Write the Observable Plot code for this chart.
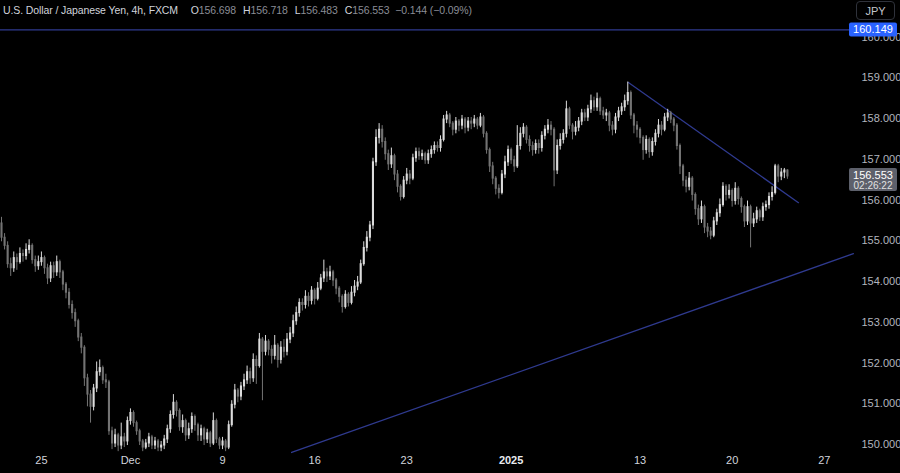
<!DOCTYPE html>
<html><head><meta charset="utf-8">
<script src="https://cdn.jsdelivr.net/npm/d3@7"></script>
<script src="https://cdn.jsdelivr.net/npm/@observablehq/plot@0.6"></script>
<style>
html,body{margin:0;padding:0;background:#000;}
#wrap{position:relative;width:900px;height:473px;overflow:hidden;background:#000;font-family:"Liberation Sans",Arial,sans-serif;}
#hdr{position:absolute;left:3px;top:4px;font-size:10.5px;letter-spacing:-0.1px;color:#d1d4dc;white-space:nowrap;}
#hdr .k{color:#d1d4dc;margin-left:7px}
#hdr .v{color:#8a8d96}
#jpy{position:absolute;left:856px;top:1px;width:39px;height:19px;border:1px solid #2f323b;border-radius:4px;color:#c3c6ce;font-size:11px;text-align:center;line-height:18px;box-sizing:border-box;}
</style></head>
<body><div id="wrap"><div id="chart"></div>
<div id="hdr">U.S. Dollar / Japanese Yen, 4h, FXCM &nbsp;<span class="k">O</span><span class="v">156.698</span><span class="k">H</span><span class="v">156.718</span><span class="k">L</span><span class="v">156.483</span><span class="k">C</span><span class="v">156.553</span> <span class="v">&nbsp;−0.144 (−0.09%)</span></div>
<div id="jpy">JPY</div>
</div>
<script>
// ---- data (4h candles) ----
const firstOpen = 155.40;
const closes = [
155.05,154.85,154.40,154.30,154.55,154.45,154.65,154.60,154.75,154.85,
154.50,154.35,154.45,154.55,154.30,154.05,154.35,154.20,154.45,154.20,
153.90,153.70,153.40,153.20,153.00,152.60,152.35,151.60,151.20,150.90,
151.35,151.75,151.85,151.55,151.50,150.30,150.00,150.20,149.95,150.15,
150.05,150.55,150.75,150.50,150.30,150.05,149.90,150.00,150.15,149.95,
150.05,149.90,149.95,150.10,150.35,150.70,151.00,150.80,150.40,150.55,
150.20,150.35,150.65,150.45,150.20,150.35,150.10,150.25,150.00,150.55,
150.10,149.95,150.05,149.90,150.45,150.95,151.30,151.15,151.40,151.55,
151.75,151.60,152.05,151.90,152.55,152.25,152.50,152.30,152.15,152.40,
152.05,152.35,152.25,152.55,152.70,153.00,153.20,153.45,153.40,153.60,
153.50,153.75,153.55,153.80,154.05,154.20,154.10,154.20,154.00,153.80,
153.60,153.35,153.65,153.45,153.70,153.85,153.95,154.40,154.80,155.05,
155.35,156.90,157.50,157.70,157.40,157.10,156.85,157.05,156.60,156.30,
156.05,156.45,156.60,156.50,157.00,157.15,157.05,157.10,156.95,157.10,
157.20,157.30,157.25,157.45,157.95,158.05,157.85,157.70,157.90,157.80,
157.95,157.75,157.90,157.85,157.95,157.80,158.00,157.60,157.20,156.80,
156.50,156.25,156.15,156.60,156.90,157.20,156.95,156.80,157.30,157.60,
157.75,157.45,157.30,157.20,157.35,157.25,157.55,157.70,157.80,157.70,
156.70,157.30,157.45,157.60,158.20,157.80,157.65,157.75,157.90,158.10,
158.00,158.20,158.40,158.25,158.45,158.15,158.05,158.10,157.80,157.70,
158.00,158.15,158.25,158.40,158.60,158.05,157.80,157.70,157.50,157.20,
157.45,157.15,157.40,157.60,157.80,157.70,158.00,158.10,157.95,157.80,
157.30,156.80,156.45,156.30,156.50,156.10,155.75,155.50,155.80,155.30,
155.20,155.10,155.45,155.65,155.85,156.30,156.10,156.20,155.95,156.25,
156.00,155.80,155.45,155.80,155.40,155.50,155.70,155.55,155.80,155.85,
156.05,156.15,156.80,156.55,156.65,156.70,156.553];
const highs = [
155.55,155.15,154.95,154.55,154.70,154.65,154.80,154.75,154.90,155.00,
154.90,154.60,154.60,154.70,154.60,154.40,154.45,154.45,154.60,154.50,
154.25,153.95,153.80,153.50,153.30,153.05,152.70,152.40,151.70,151.30,
151.45,152.00,152.05,151.90,151.70,151.55,150.40,150.35,150.25,150.50,
150.25,150.65,150.85,150.80,150.55,150.35,150.10,150.10,150.25,150.20,
150.15,150.10,150.05,150.20,150.45,150.80,151.20,151.05,150.85,150.70,
150.60,150.50,150.75,150.70,150.50,150.45,150.40,150.35,150.30,150.75,
150.60,150.15,150.15,150.10,150.55,151.05,151.45,151.35,151.50,151.70,
151.90,151.85,152.20,152.15,152.70,152.60,152.65,152.55,152.40,152.65,
152.45,152.50,152.55,152.70,152.85,153.15,153.35,153.55,153.55,153.75,
153.70,153.85,153.80,153.95,154.15,154.50,154.30,154.35,154.25,154.05,
153.85,153.65,153.75,153.70,153.85,154.00,154.10,154.50,154.95,155.20,
155.45,157.00,157.70,157.85,157.80,157.50,157.20,157.25,157.10,156.70,
156.35,156.55,156.75,156.70,157.10,157.25,157.25,157.20,157.15,157.20,
157.30,157.40,157.40,157.55,158.05,158.15,158.10,157.90,158.00,157.95,
158.05,158.00,158.00,158.00,158.05,158.00,158.10,158.05,157.65,157.25,
156.90,156.55,156.35,156.70,157.05,157.30,157.25,157.05,157.80,157.75,
157.85,157.80,157.55,157.40,157.45,157.45,157.65,157.80,157.95,157.90,
157.75,157.45,157.60,157.70,158.40,158.25,157.85,157.90,158.00,158.20,
158.20,158.30,158.55,158.50,158.60,158.50,158.25,158.20,158.15,157.90,
158.10,158.25,158.35,158.55,158.87,158.65,158.10,157.90,157.75,157.55,
157.55,157.50,157.50,157.70,157.95,157.90,158.10,158.20,158.15,158.00,
157.85,157.35,156.85,156.55,156.65,156.55,156.15,155.85,155.95,155.85,
155.40,155.30,155.55,155.75,156.00,156.40,156.35,156.35,156.25,156.40,
156.30,156.05,155.85,155.95,155.85,155.65,155.80,155.75,155.90,155.95,
156.15,156.30,156.85,156.85,156.75,156.75,156.718];
const lows = [
154.95,154.75,154.30,154.10,154.20,154.25,154.40,154.45,154.50,154.65,
154.40,154.20,154.25,154.35,154.15,153.90,153.95,154.05,154.10,154.05,
153.75,153.55,153.30,153.05,152.85,152.50,152.20,151.40,150.90,150.50,
150.80,151.25,151.65,151.45,151.35,150.20,149.85,149.90,149.80,149.85,
149.90,149.95,150.45,150.40,150.20,149.95,149.80,149.85,149.90,149.85,
149.85,149.80,149.80,149.85,150.00,150.25,150.60,150.65,150.30,150.25,
150.05,150.10,150.25,150.30,150.05,150.05,149.95,150.00,149.90,149.95,
150.00,149.85,149.85,149.80,149.85,150.40,150.85,151.00,151.05,151.30,
151.45,151.45,151.50,151.45,151.85,151.05,152.15,152.15,151.95,152.05,
151.85,151.95,152.10,152.15,152.45,152.60,152.90,153.10,153.25,153.30,
153.35,153.40,153.40,153.50,153.75,153.95,153.95,154.00,153.85,153.65,
153.45,153.20,153.30,153.35,153.40,153.60,153.75,153.90,154.35,154.70,
154.95,155.25,156.80,157.35,157.25,156.95,156.70,156.75,156.45,156.15,
155.95,156.00,156.35,156.35,156.45,156.90,156.95,156.95,156.85,156.85,
157.00,157.10,157.15,157.15,157.40,157.85,157.75,157.55,157.60,157.65,
157.70,157.60,157.65,157.70,157.75,157.70,157.75,157.50,157.10,156.65,
156.35,156.10,156.00,156.10,156.50,156.80,156.85,156.65,156.75,157.20,
157.50,157.35,157.15,157.05,157.10,157.10,157.15,157.45,157.60,157.55,
156.30,156.60,157.20,157.35,157.50,157.70,157.45,157.55,157.65,157.80,
157.90,157.90,158.10,158.15,158.15,158.05,157.95,157.90,157.65,157.55,
157.60,157.90,158.05,158.15,158.30,157.95,157.60,157.50,157.35,156.95,
157.10,157.00,157.05,157.30,157.50,157.55,157.65,157.90,157.85,157.65,
157.20,156.60,156.30,156.15,156.20,155.95,155.60,155.35,155.40,155.15,
155.05,155.00,155.05,155.35,155.55,155.80,155.95,156.00,155.80,155.85,
155.85,155.65,155.30,155.35,154.80,155.30,155.40,155.45,155.45,155.70,
155.75,155.95,156.10,156.40,156.45,156.50,156.483];
const tickIdx = [13, 42, 72, 102, 132, 166, 208, 238, 268];
const tickLabels = ["25", "Dec", "9", "16", "23", "2025", "13", "20", "27"];
const priceTicks = [150,151,152,153,154,155,156,157,158,159,160];
const resistIdx = [204.2, 259.6], resistPrice = [158.86, 155.91];
const supportIdx = [94.5, 277.5], supportPrice = [149.78, 154.66];
const lastLevel = 160.149;
const lastPrice = 156.553, countdown = "02:26:22";

// ---- build table ----
const bars = closes.map((c, i) => {
  const o = i === 0 ? firstOpen : closes[i - 1];
  return {i, o, c, h: highs[i], l: lows[i], up: c >= o};
});
const upCol = "#dcdcdc", dnCol = "#737373", lineCol = "#2f3a8f";
const ticks = tickIdx.map((t, k) => ({t, label: tickLabels[k], bold: tickLabels[k] === "2025"}));

const plot = Plot.plot({
  width: 900, height: 473,
  marginLeft: 0, marginRight: 47, marginTop: 0, marginBottom: 20,
  style: {background: "#000", color: "#b2b5be", fontFamily: "Liberation Sans, Arial, sans-serif", fontSize: "11px"},
  x: {type: "linear", domain: [0, 256], range: [1, 1 + 3.07 * 256], axis: null},
  y: {domain: [150, 160], range: [443, 35.5], axis: null},
  marks: [
    Plot.ruleY([lastLevel], {stroke: lineCol, strokeWidth: 1.2}),
    Plot.line(supportIdx.map((d, k) => ({x: d, y: supportPrice[k]})), {x: "x", y: "y", stroke: lineCol, strokeWidth: 1.3}),
    Plot.line(resistIdx.map((d, k) => ({x: d, y: resistPrice[k]})), {x: "x", y: "y", stroke: lineCol, strokeWidth: 1.3}),
    Plot.ruleX(bars, {x: "i", y1: "l", y2: "h", stroke: d => d.up ? upCol : dnCol, strokeWidth: 1}),
    Plot.ruleX(bars, {x: "i", y1: d => Math.min(d.o, d.c) - 0.012, y2: d => Math.max(d.o, d.c) + 0.012, stroke: d => d.up ? upCol : dnCol, strokeWidth: 2.1}),
    Plot.axisY(priceTicks, {anchor: "right", tickSize: 0, tickPadding: 8, dy: 1, tickFormat: d => d.toFixed(3), fill: "#b2b5be", fontSize: 11}),
    Plot.text(ticks.filter(d => !d.bold), {x: "t", text: "label", frameAnchor: "bottom", dy: 10, fill: "#d1d4dc", fontSize: 11}),
    Plot.text(ticks.filter(d => d.bold), {x: "t", text: "label", frameAnchor: "bottom", dy: 10, fill: "#e8eaef", fontSize: 11, fontWeight: "bold"})
  ]
});
document.getElementById("chart").appendChild(plot);

// price labels on the axis, placed through the y scale
const svg = d3.select(plot);
const ys = plot.scale("y");
const yL = ys.apply(lastLevel);
svg.append("rect").attr("x", 849).attr("y", yL - 7).attr("width", 48).attr("height", 14).attr("rx", 2).attr("fill", "#2962ff");
svg.append("text").attr("x", 873).attr("y", yL + 4).attr("text-anchor", "middle").attr("fill", "#fff").attr("font-size", 11).text(lastLevel.toFixed(3));
const yP = ys.apply(lastPrice);
svg.append("rect").attr("x", 849).attr("y", yP - 8).attr("width", 48).attr("height", 23).attr("rx", 2).attr("fill", "#5d606b");
svg.append("text").attr("x", 873).attr("y", yP + 3).attr("text-anchor", "middle").attr("fill", "#fff").attr("font-size", 11).text(lastPrice.toFixed(3));
svg.append("text").attr("x", 873).attr("y", yP + 13).attr("text-anchor", "middle").attr("fill", "#e0e0e0").attr("font-size", 10).text(countdown);
</script>
</body></html>
